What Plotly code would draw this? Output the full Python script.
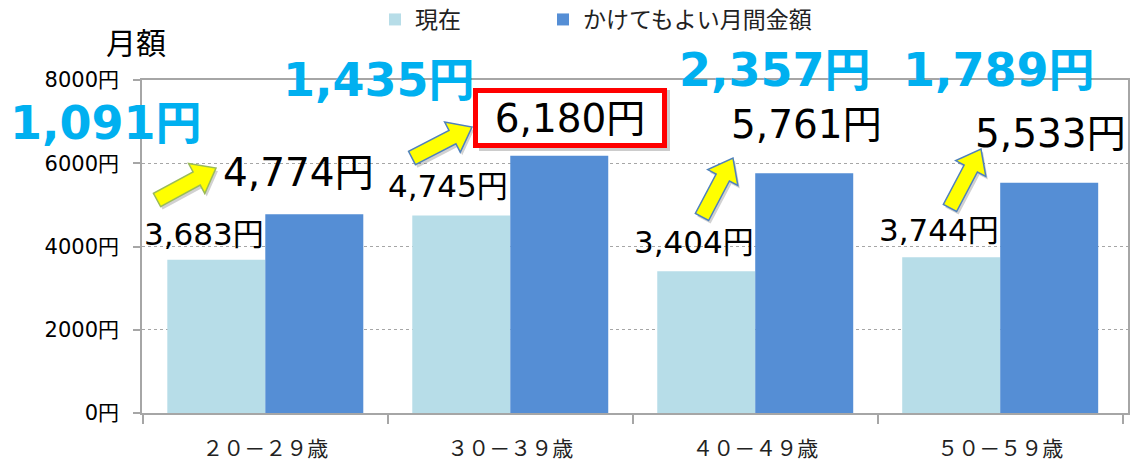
import plotly.graph_objects as go
import math

# ---------------- data ----------------
categories = ["２０－２９歳", "３０－３９歳", "４０－４９歳", "５０－５９歳"]
series_names = ["現在", "かけてもよい月間金額"]
current = [3683, 4745, 3404, 3744]
willing = [4774, 6180, 5761, 5533]
y_ticks = [0, 2000, 4000, 6000, 8000]
y_tick_labels = [f"{v}円" for v in y_ticks]
y_title = "月額"

LIGHT = "#B7DDE8"
DARK = "#558ED5"
CYAN = "#00B0F0"
GRID = "#A6A6A6"

# ---------------- layout geometry (pixels) ----------------
W, H = 1132, 462
L, R, T, B = 142, 1128, 80, 413


def px(x):
    return (x - L) / (R - L)


def py(y):
    return (B - y) / (B - T)


cat_w = (R - L) / len(categories)
bar_off = cat_w * 0.8 / 4  # half bar width

fig = go.Figure()
fig.add_trace(go.Bar(name=series_names[0], x=categories, y=current,
                     legendwidth=123,
                     marker=dict(color=LIGHT, line=dict(width=0))))
fig.add_trace(go.Bar(name=series_names[1], x=categories, y=willing,
                     legendwidth=240,
                     marker=dict(color=DARK, line=dict(width=0))))

ann = []
LBL_FONT = "DejaVu Sans, Noto Sans CJK JP, sans-serif"

# value labels (offsets relative to the bar top / centre)
light_off = [(-12, 26), (-13, 29), (-12, 29), (-12, 27)]
dark_off = [(-16, 42), (10, 38), (2, 49), (1, 49)]
for i, c in enumerate(categories):
    dx, dy = light_off[i]
    ann.append(dict(x=c, y=current[i], xref="x", yref="y",
                    text=f"{current[i]:,}円", showarrow=False,
                    xshift=-bar_off + dx, yshift=dy, yanchor="middle",
                    font=dict(family=LBL_FONT, size=31, color="black")))
    dx, dy = dark_off[i]
    a = dict(x=c, y=willing[i], xref="x", yref="y",
             text=f"{willing[i]:,}円", showarrow=False,
             xshift=bar_off + dx, yshift=dy, yanchor="middle",
             font=dict(family=LBL_FONT, size=39, color="black"))
    if i == 1:
        a.update(bordercolor="#FF0000", borderwidth=5, borderpad=0,
                 bgcolor="white", width=184, height=50)
    ann.append(a)

# difference labels (big cyan)
diff_pos = [(106, 123), (379, 80), (775, 70), (999, 70)]
for i in range(len(categories)):
    d = willing[i] - current[i]
    x, y = diff_pos[i]
    ann.append(dict(x=px(x), y=py(y), xref="paper", yref="paper",
                    text=f"<b>{d:,}円</b>", showarrow=False,
                    xanchor="center", yanchor="middle",
                    font=dict(family=LBL_FONT, size=46, color=CYAN)))


# yellow block arrows
def block_arrow(x0, y0, x1, y1, shaft=15, head_w=34, head_len=22):
    dx, dy = x1 - x0, y1 - y0
    ln = math.hypot(dx, dy)
    ux, uy = dx / ln, dy / ln
    nx, ny = -uy, ux
    bx, by = x1 - ux * head_len, y1 - uy * head_len
    return [
        (x0 + nx * shaft / 2, y0 + ny * shaft / 2),
        (bx + nx * shaft / 2, by + ny * shaft / 2),
        (bx + nx * head_w / 2, by + ny * head_w / 2),
        (x1, y1),
        (bx - nx * head_w / 2, by - ny * head_w / 2),
        (bx - nx * shaft / 2, by - ny * shaft / 2),
        (x0 - nx * shaft / 2, y0 - ny * shaft / 2),
    ]


def to_path(pts, sx=0, sy=0):
    s = "M" + " L".join(f"{px(x + sx):.5f},{py(y + sy):.5f}" for x, y in pts)
    return s + " Z"


arrows = [
    ((157, 200), (216, 168), "#9BBB59"),
    ((412, 158), (472, 127), "#4F81BD"),
    ((702, 217), (733, 158), "#4F81BD"),
    ((950, 208), (981, 149), "#4F81BD"),
]
shapes = []
for (x0, y0), (x1, y1), oc in arrows:
    pts = block_arrow(x0, y0, x1, y1)
    shapes.append(dict(type="path", xref="paper", yref="paper",
                       path=to_path(pts, 2, 3), fillcolor="rgba(0,0,0,0.18)",
                       line=dict(width=0), layer="above"))
    shapes.append(dict(type="path", xref="paper", yref="paper",
                       path=to_path(pts), fillcolor="#FFFF00",
                       line=dict(color=oc, width=1.5), layer="above"))

# shadow of the red box
shapes.append(dict(type="rect", xref="paper", yref="paper",
                   x0=px(479), x1=px(670), y0=py(90), y1=py(151),
                   fillcolor="rgba(0,0,0,0.2)", line=dict(width=0),
                   layer="above"))

fig.update_layout(
    width=W, height=H,
    margin=dict(l=L, r=W - R, t=T, b=H - B, autoexpand=False),
    paper_bgcolor="white", plot_bgcolor="white",
    barmode="group", bargap=0.2, bargroupgap=0,
    font=dict(family="DejaVu Sans, Noto Sans CJK JP, sans-serif", color="black"),
    title=dict(text=y_title, x=136 / W, y=1 - 43 / H, xref="container",
               yref="container", xanchor="center", yanchor="middle",
               font=dict(family="Noto Sans CJK JP", size=30, color="black")),
    legend=dict(orientation="h", x=px(375), y=py(-2), xanchor="left",
                yanchor="top", traceorder="normal",
                font=dict(family="Noto Sans CJK JP", size=23, color="#222"),
                bgcolor="rgba(0,0,0,0)"),
    xaxis=dict(type="category", automargin=False, showline=True,
               linecolor=GRID, linewidth=1.5,
               mirror=True, ticks="outside", tickson="boundaries", ticklen=9,
               tickcolor=GRID, tickwidth=1.5, showgrid=False,
               ticklabelstandoff=16,
               tickfont=dict(family="Noto Sans CJK JP", size=21, color="#222")),
    yaxis=dict(range=[0, 8000], automargin=False, tickvals=y_ticks,
               ticktext=y_tick_labels, showline=True, linecolor=GRID,
               linewidth=1.5, mirror=True, ticks="outside", ticklen=7,
               tickcolor=GRID, tickwidth=1.5, showgrid=True, gridcolor=GRID,
               griddash="dot", gridwidth=1, zeroline=False,
               ticklabelstandoff=10,
               tickfont=dict(family="DejaVu Sans, Noto Sans CJK JP", size=21,
                             color="black")),
    annotations=ann,
    shapes=shapes,
)

fig.write_html(
    "out.html",
    config={"displayModeBar": False},
    post_script="document.body.style.margin='0';document.body.style.overflow='hidden';",
)
